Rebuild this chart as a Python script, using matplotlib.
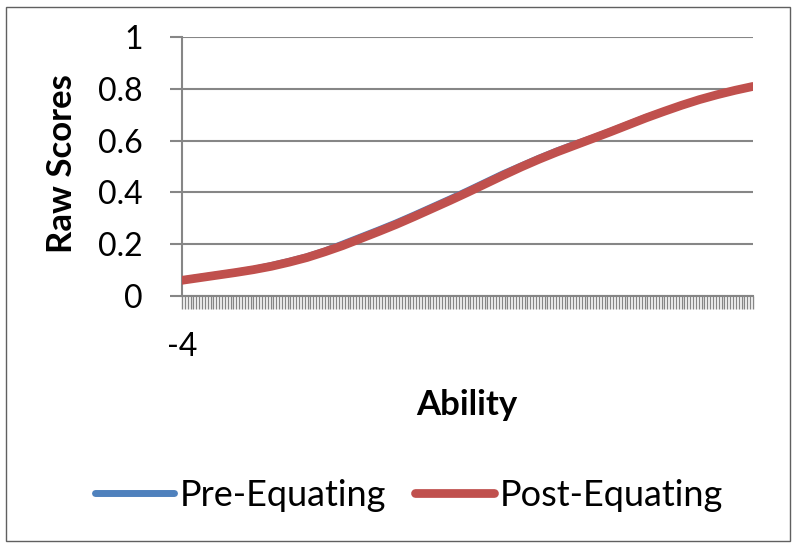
import matplotlib.pyplot as plt
from matplotlib.patches import Rectangle
from matplotlib.ticker import MultipleLocator, FixedLocator

plt.rcParams["font.family"] = ["Lato", "DejaVu Sans"]

# ability grid and expected raw scores (test characteristic curves)
ability = [-4.00, -3.75, -3.50, -3.25, -3.00, -2.75, -2.50, -2.25, -2.00,
           -1.75, -1.50, -1.25, -1.00, -0.75, -0.50, -0.25, 0.00, 0.25,
           0.50, 0.75, 1.00, 1.25, 1.50, 1.75, 2.00, 2.25, 2.50, 2.75,
           3.00, 3.25, 3.50, 3.75, 4.00]
post_equating = [0.060, 0.070, 0.080, 0.090, 0.101, 0.114, 0.130, 0.148,
                 0.170, 0.194, 0.221, 0.248, 0.276, 0.306, 0.337, 0.368,
                 0.400, 0.433, 0.466, 0.498, 0.528, 0.556, 0.582, 0.608,
                 0.634, 0.661, 0.688, 0.713, 0.737, 0.759, 0.778, 0.795,
                 0.810]
pre_equating = [0.061, 0.071, 0.081, 0.091, 0.102, 0.117, 0.133, 0.151,
                0.173, 0.200, 0.227, 0.254, 0.282, 0.312, 0.343, 0.374,
                0.406, 0.439, 0.472, 0.502, 0.532, 0.560, 0.586, 0.610,
                0.636, 0.663, 0.690, 0.713, 0.737, 0.759, 0.778, 0.795,
                0.810]
y_ticks = [0, 0.2, 0.4, 0.6, 0.8, 1]
y_labels = ["0", "0.2", "0.4", "0.6", "0.8", "1"]

BLUE = "#4F81BD"
RED = "#C0504D"
GRID = "#868686"

fig = plt.figure(figsize=(7.97, 5.48), dpi=100)
ax = fig.add_axes([182 / 797, 1 - 295.8 / 548, 571 / 797, 258.5 / 548])

ax.plot(ability, pre_equating, color=BLUE, lw=5.0, solid_capstyle="round",
        label="Pre-Equating", zorder=3)
ax.plot(ability, post_equating, color=RED, lw=6.3, solid_capstyle="round",
        label="Post-Equating", zorder=4)

ax.set_xlim(-4, 4)
ax.set_ylim(0, 1)

# y axis
ax.yaxis.set_major_locator(FixedLocator(y_ticks))
ax.set_yticklabels(y_labels)
ax.tick_params(axis="y", direction="out", length=9, width=1.5, color=GRID,
               pad=19, labelsize=23)
ax.grid(axis="y", color=GRID, lw=1.5, zorder=1)

# x axis: dense category ticks, only the first one labelled
ax.xaxis.set_major_locator(FixedLocator([-4]))
ax.set_xticklabels(["-4"])
ax.xaxis.set_minor_locator(MultipleLocator(0.04))
ax.tick_params(axis="x", which="major", direction="out", length=9, width=1,
               color=GRID, pad=17, labelsize=23)
ax.tick_params(axis="x", which="minor", direction="out", length=9, width=1,
               color=GRID)

for side in ("top", "right"):
    ax.spines[side].set_visible(False)
for side in ("left", "bottom"):
    ax.spines[side].set_color(GRID)
    ax.spines[side].set_linewidth(1.5)

ax.set_xlabel("Ability", fontsize=25, fontweight="bold")
ax.set_ylabel("Raw Scores", fontsize=25, fontweight="bold")
ax.xaxis.set_label_coords((467 - 182) / 571, -(389 - 295.8) / 258.5)
ax.yaxis.set_label_coords((78 - 182) / 571, (295.8 - 164) / 258.5)

fig.legend(loc="center", bbox_to_anchor=(409 / 797, 1 - 495 / 548), ncol=2,
           frameon=False, fontsize=26, handlelength=2.2, handletextpad=0.15,
           columnspacing=0.8)

# chart border
fig.patches.append(Rectangle((6 / 797, 1 - 541 / 548), 784 / 797, 534 / 548,
                             transform=fig.transFigure, fill=False,
                             edgecolor="#606060", lw=1))

fig.savefig("out.png", dpi=100)
